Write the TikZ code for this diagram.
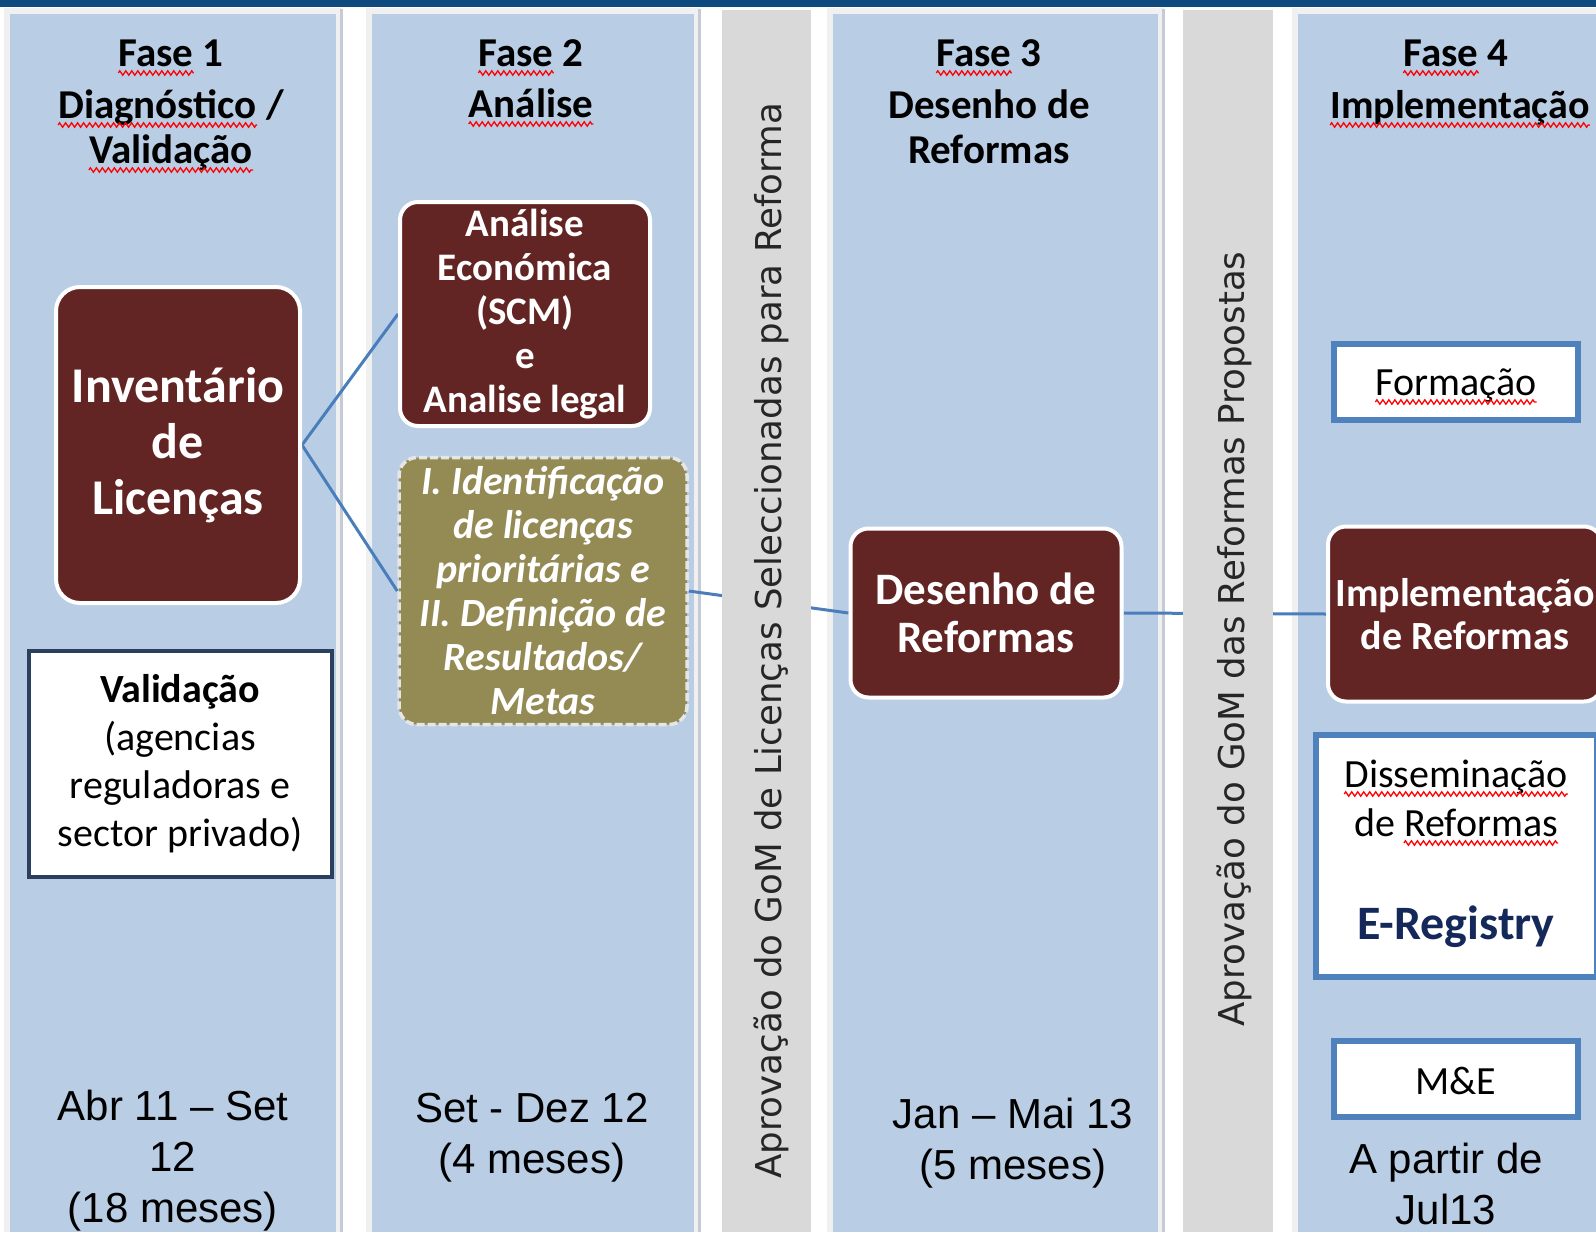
\documentclass[tikz,border=0pt]{standalone}
\usepackage{fontspec}
\setmainfont{Carlito}
\newfontfamily\arialf{Liberation Sans}
\newfontfamily\dejavuf{DejaVu Sans}
\usetikzlibrary{decorations.pathmorphing}
\definecolor{colblue}{HTML}{B9CDE5}
\definecolor{colframe}{HTML}{F0F0F0}
\definecolor{colshadow}{HTML}{C4CBD6}
\definecolor{bargray}{HTML}{D9D9D9}
\definecolor{topbar}{HTML}{0F4A7E}
\definecolor{darkred}{HTML}{632523}
\definecolor{olivebox}{HTML}{948A54}
\definecolor{linecol}{HTML}{4A7EBB}
\definecolor{boxblue}{HTML}{4F81BD}
\definecolor{navyline}{HTML}{2B3F5E}
\definecolor{regnavy}{HTML}{14285A}
\definecolor{dashgray}{HTML}{E6E6E6}
\pgfdeclarelayer{bg}\pgfdeclarelayer{ln}\pgfdeclarelayer{bars}
\pgfsetlayers{bg,ln,bars,main}
\tikzset{
 hdr/.style={inner sep=0pt, anchor=base, font=\fontsize{41}{44}\selectfont\bfseries},
 plaintext/.style={inner sep=0pt, anchor=base, font=\fontsize{40}{44}\selectfont},
 sq/.style={draw=red, line width=1.3pt, decorate, decoration={zigzag, amplitude=2.2pt, segment length=6pt}},
 redbox/.style={fill=darkred, draw=white, line width=4pt, rounded corners=20pt, text=white, align=center, inner sep=0pt},
 whitebox/.style={fill=white, draw=boxblue, line width=6pt, inner sep=0pt},
 conn/.style={draw=linecol, line width=3pt},
 datetext/.style={align=center, inner sep=0pt, font=\arialf\fontsize{42}{51}\selectfont},
 vtext/.style={rotate=90, inner sep=0pt, text=black!85, font=\dejavuf\fontsize{35.6}{40}\selectfont},
}
\newcommand\sqword[1]{\draw[sq] ([yshift=-7pt]#1.base west) -- ([yshift=-7pt]#1.base east);}
\begin{document}
\begin{tikzpicture}[x=1pt,y=-1pt]
\useasboundingbox (0,0) rectangle (1596,1232);
\begin{pgfonlayer}{bg}
\fill[white] (0,0) rectangle (1596,1232);
\fill[topbar] (0,0) rectangle (1596,7);
\foreach \a/\b in {10/336,372/694,833/1158,1298/1610}{
  \fill[colframe] (\a-6,8) rectangle (\b+6,1232);
  \fill[colblue] (\a,14) rectangle (\b,1232);
  \draw[colshadow, line width=3pt] (\b+5,9) -- (\b+5,1232);
}
\end{pgfonlayer}
\begin{pgfonlayer}{bars}
\fill[bargray] (722,10) rectangle (811,1232);
\fill[bargray] (1183,10) rectangle (1273,1232);
\end{pgfonlayer}

% headers
\node[hdr] (h1a) at (171,66) {Fase 1};
\node[hdr, anchor=base west] (h1aw) at (h1a.base west) {\phantom{Fase}};
\node[hdr] (h1b) at (171,118) {Diagnóstico /};
\node[hdr, anchor=base west] (h1bw) at (h1b.base west) {\phantom{Diagnóstico}};
\node[hdr] (h1c) at (171,163) {Validação};
\node[hdr] (h2a) at (531,66) {Fase 2};
\node[hdr, anchor=base west] (h2aw) at (h2a.base west) {\phantom{Fase}};
\node[hdr] (h2b) at (531,117) {Análise};
\node[hdr] (h3a) at (989,66) {Fase 3};
\node[hdr, anchor=base west] (h3aw) at (h3a.base west) {\phantom{Fase}};
\node[hdr] (h3b) at (989,118) {Desenho de};
\node[hdr] (h3c) at (989,163) {Reformas};
\node[hdr] (h4a) at (1456,66) {Fase 4};
\node[hdr, anchor=base west] (h4aw) at (h4a.base west) {\phantom{Fase}};
\node[hdr, font=\fontsize{40}{44}\selectfont\bfseries] (h4b) at (1460,118) {Implementação};

% boxes
\node[redbox, minimum width=244pt, minimum height=316pt, rounded corners=24pt,
  font=\fontsize{50}{56}\selectfont\bfseries] (inv) at (178,445) {Inventário\\de\\Licenças};
\node[redbox, minimum width=250pt, minimum height=224pt, rounded corners=18pt,
  font=\fontsize{39}{44}\selectfont\bfseries] (ana) at (525,314) {Análise\\Económica\\(SCM)\\e\\Analise legal};
\node[fill=olivebox, draw=dashgray, line width=3.5pt, dash pattern=on 8pt off 3pt,
  rounded corners=18pt, minimum width=288pt, minimum height=267pt, inner sep=0pt, align=center,
  text=white, font=\fontsize{40}{44}\selectfont\bfseries\itshape] (ident) at (543,591)
  {I. Identificação\\de licenças\\prioritárias e\\II. Definição de\\Resultados/\\Metas};
\node[fill=white, draw=navyline, line width=4pt, minimum width=303pt, minimum height=226pt,
  inner sep=0pt, align=center, font=\fontsize{40}{48}\selectfont] (val) at (180,764)
  {\textbf{Validação}\\(agencias\\reguladoras e\\sector privado)};
\node[redbox, minimum width=271pt, minimum height=169pt, rounded corners=18pt,
  font=\fontsize{45}{48}\selectfont\bfseries] (des) at (986,613) {Desenho de\\Reformas};
\node[redbox, minimum width=274pt, minimum height=175pt, rounded corners=18pt,
  font=\fontsize{40}{43}\selectfont\bfseries] (impl) at (1465,614) {Implementação\\de Reformas};

\node[whitebox, minimum width=244pt, minimum height=76pt] (form) at (1456,382) {};
\node[plaintext] (formt) at (1456,395) {Formação};
\node[whitebox, minimum width=281pt, minimum height=242pt] (diss) at (1456,856) {};
\node[plaintext] (dl1) at (1456,787) {Disseminação};
\node[plaintext] (dl2) at (1456,836) {de Reformas};
\node[plaintext, anchor=base east] (dl2w) at (dl2.base east) {\phantom{Reformas}};
\node[plaintext, text=regnavy, font=\fontsize{48}{50}\selectfont\bfseries] (dl3) at (1456,939) {E-Registry};
\node[whitebox, minimum width=244pt, minimum height=76pt] (me) at (1456,1079) {};
\node[plaintext] (met) at (1456,1094) {M\&E};

% dates
\node[datetext] (d1) at (173,1161) {Abr 11 – Set\\12\\(18 meses)};
\node[datetext] (d2) at (532,1138) {Set - Dez 12\\(4 meses)};
\node[datetext] (d3) at (1013,1143) {Jan – Mai 13\\(5 meses)};
\node[datetext] (d4) at (1446,1184) {A partir de\\Jul13};

% vertical texts
\node[vtext] (v1) at (771,641) {Aprovação do GoM de Licenças Seleccionadas para Reforma};
\node[vtext] (v2) at (1234,639) {Aprovação do GoM das Reformas Propostas};

% connectors
\begin{pgfonlayer}{ln}
\draw[conn] (inv.east) -- (ana.west);
\draw[conn] (inv.east) -- (ident.west);
\draw[conn] (ident.east) -- (des.west);
\draw[conn] (des.east) -- (impl.west);
\end{pgfonlayer}

% spelling squiggles
\sqword{h1aw}\sqword{h1bw}\sqword{h1c}\sqword{h2aw}\sqword{h2b}
\sqword{h3aw}\sqword{h4aw}\sqword{h4b}\sqword{formt}\sqword{dl1}\sqword{dl2w}
\end{tikzpicture}
\end{document}
